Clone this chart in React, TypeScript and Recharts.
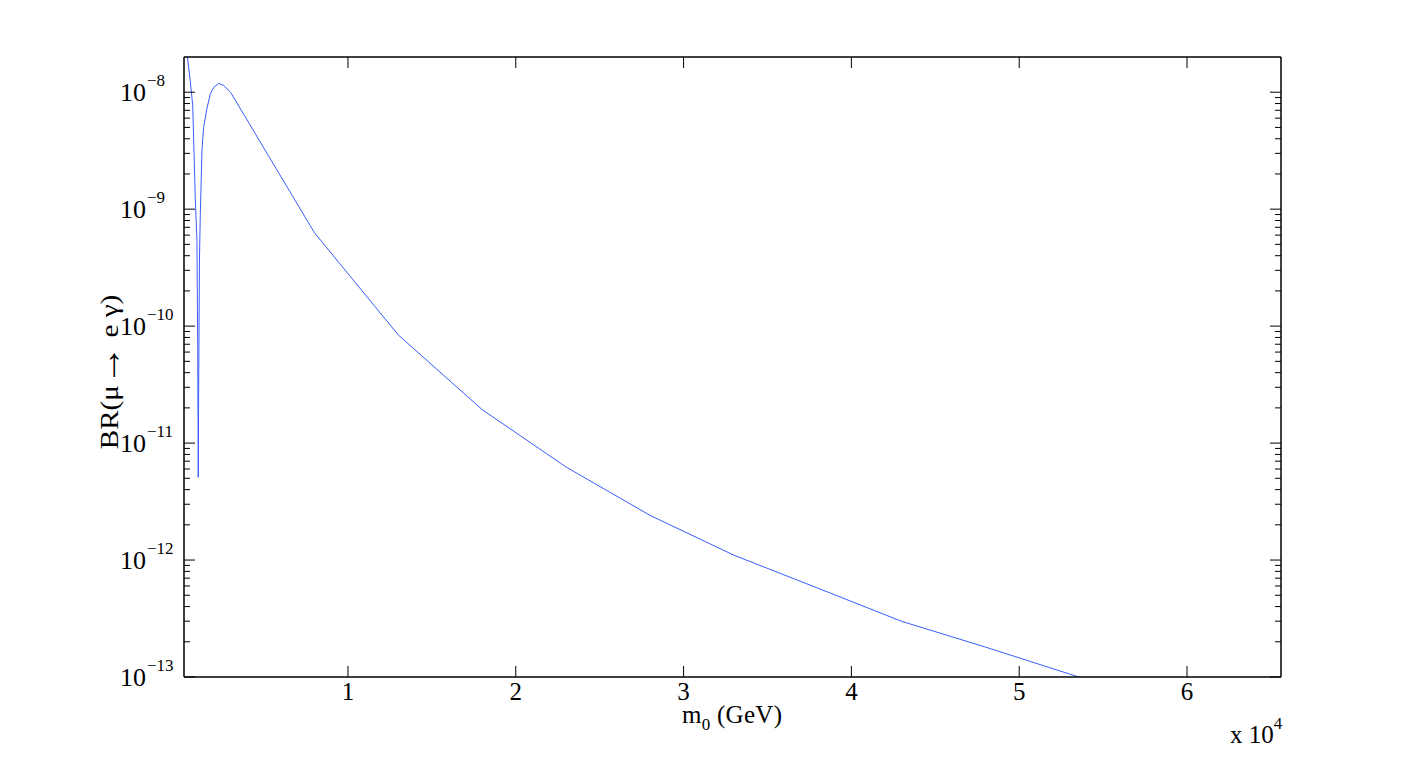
import { LineChart, Line, XAxis, YAxis, Label } from "recharts";

// m0 in GeV, BR(mu -> e gamma)
const m0 = [
  250, 400, 600, 750, 900, 1000, 1050, 1080, 1100, 1150, 1200, 1300, 1400, 1600,
  1800, 2000, 2300, 2600, 3000, 8000, 13000, 18000, 23000, 28000, 33000, 38000,
  43000, 48000, 53000, 58000, 63000,
];
const br = [
  3.3e-8, 2.2e-8, 1.26e-8, 7.7e-9, 1.26e-9, 5.4e-10, 6.2e-11, 5.1e-12, 2.3e-11,
  3.6e-10, 8.8e-10, 3.2e-9, 5.0e-9, 7.3e-9, 9.7e-9, 1.1e-8, 1.19e-8, 1.14e-8,
  1.0e-8, 6.3e-10, 8.4e-11, 1.93e-11, 6.24e-12, 2.41e-12, 1.1e-12, 5.75e-13,
  2.99e-13, 1.8e-13, 1.06e-13, 6.2e-14, 3.8e-14,
];

const xTicks = [10000, 20000, 30000, 40000, 50000, 60000];
const xTickLabels = ["1", "2", "3", "4", "5", "6"];
const yExponents = [-13, -12, -11, -10, -9, -8];
const Y_DOMAIN = [1e-13, 2e-8];
const X_DOMAIN = [230, 65600];

const yMajor = yExponents.map((e) => Math.pow(10, e));
const yTicks = yMajor
  .flatMap((v) => [1, 2, 3, 4, 5, 6, 7, 8, 9].map((k) => k * v))
  .filter((v) => v < Y_DOMAIN[1] * 0.999);

const data = m0.map((m, i) => ({ m0: m, br: br[i] }));

const FONT = "'Liberation Serif', 'Times New Roman', serif";
const MAJOR = 11;
const MINOR = 6;

// plot box in page pixels
const LEFT = 184;
const TOP = 57;
const RIGHT = 1281;
const BOTTOM = 677;

const isMajor = (v: number) => {
  const l = Math.log10(v);
  return Math.abs(l - Math.round(l)) < 1e-6;
};

const LeftTick = ({ y, payload }: any) => {
  const v = payload.value;
  const major = isMajor(v);
  const exp = Math.round(Math.log10(v));
  const x = LEFT;
  return (
    <g>
      <line x1={x} x2={x + (major ? MAJOR : MINOR)} y1={y} y2={y} stroke="#000" strokeWidth={1} />
      {major && (
        <>
          <text x={x - 38} y={y + 8.5} textAnchor="end" fontFamily={FONT} fontSize={26} fill="#000">
            10
          </text>
          <text x={x - 37} y={y - 6} textAnchor="start" fontFamily={FONT} fontSize={17} fill="#000">
            {"\u2212" + Math.abs(exp)}
          </text>
        </>
      )}
    </g>
  );
};

const RightTick = ({ y, payload }: any) => {
  const major = isMajor(payload.value);
  return <line x1={RIGHT} x2={RIGHT - (major ? MAJOR : MINOR)} y1={y} y2={y} stroke="#000" strokeWidth={1} />;
};

const BottomTick = ({ x, payload, index }: any) => (
  <g>
    <line x1={x} x2={x} y1={BOTTOM} y2={BOTTOM - MAJOR} stroke="#000" strokeWidth={1} />
    <text x={x} y={BOTTOM + 23} textAnchor="middle" fontFamily={FONT} fontSize={25} fill="#000">
      {xTickLabels[index] ?? String(payload.value / 10000)}
    </text>
  </g>
);

const TopTick = ({ x }: any) => (
  <line x1={x} x2={x} y1={TOP} y2={TOP + MAJOR} stroke="#000" strokeWidth={1} />
);

export default function App() {
  return (
    <div style={{ position: "absolute", left: 0, top: 0, width: 1416, height: 761, background: "#fff" }}>
      <LineChart
        width={1416}
        height={761}
        data={data}
        margin={{ top: TOP - 10, right: 1416 - RIGHT - 10, bottom: 761 - BOTTOM - 30, left: LEFT - 60 }}
      >
        <XAxis
          xAxisId="bottom"
          dataKey="m0"
          type="number"
          domain={X_DOMAIN}
          allowDataOverflow
          ticks={xTicks}
          interval={0}
          height={30}
          tickLine={false}
          tick={<BottomTick />}
          axisLine={{ stroke: "#000", strokeWidth: 1.5 }}
        >
          <Label
            content={() => (
              <g>
                <text x={682} y={723} fontFamily={FONT} fontSize={25} fill="#000" textLength={100} lengthAdjust="spacing">
                  m
                  <tspan fontSize={17} dy={7}>0</tspan>
                  <tspan dy={-7}> (GeV)</tspan>
                </text>
                <text x={1230} y={743} fontFamily={FONT} fontSize={25} fill="#000">
                  x 10
                  <tspan fontSize={17} dy={-14}>4</tspan>
                </text>
              </g>
            )}
          />
        </XAxis>
        <XAxis
          xAxisId="top"
          orientation="top"
          dataKey="m0"
          type="number"
          domain={X_DOMAIN}
          allowDataOverflow
          ticks={xTicks}
          interval={0}
          height={10}
          tickLine={false}
          tick={<TopTick />}
          axisLine={{ stroke: "#000", strokeWidth: 1.5 }}
        />
        <YAxis
          yAxisId="left"
          dataKey="br"
          type="number"
          scale="log"
          domain={Y_DOMAIN}
          allowDataOverflow
          ticks={yTicks}
          interval={0}
          width={60}
          tickLine={false}
          tick={<LeftTick />}
          axisLine={{ stroke: "#000", strokeWidth: 1.5 }}
        >
          <Label
            content={() => (
              <g transform="translate(118, 372) rotate(-90) scale(1.12, 1)">
                <text x={0} y={0} textAnchor="middle" fontFamily={FONT} fontSize={26} fill="#000">
                  BR(μ
                  <tspan fontSize={36} dy={2}>→</tspan>
                  <tspan dy={-2}>{" e γ)"}</tspan>
                </text>
              </g>
            )}
          />
        </YAxis>
        <YAxis
          yAxisId="right"
          orientation="right"
          dataKey="br"
          type="number"
          scale="log"
          domain={Y_DOMAIN}
          allowDataOverflow
          ticks={yTicks}
          interval={0}
          width={10}
          tickLine={false}
          tick={<RightTick />}
          axisLine={{ stroke: "#000", strokeWidth: 1.5 }}
        />
        <Line
          xAxisId="bottom"
          yAxisId="left"
          type="linear"
          dataKey="br"
          stroke="#3a5cff"
          strokeWidth={1}
          dot={false}
          isAnimationActive={false}
        />
      </LineChart>
    </div>
  );
}
